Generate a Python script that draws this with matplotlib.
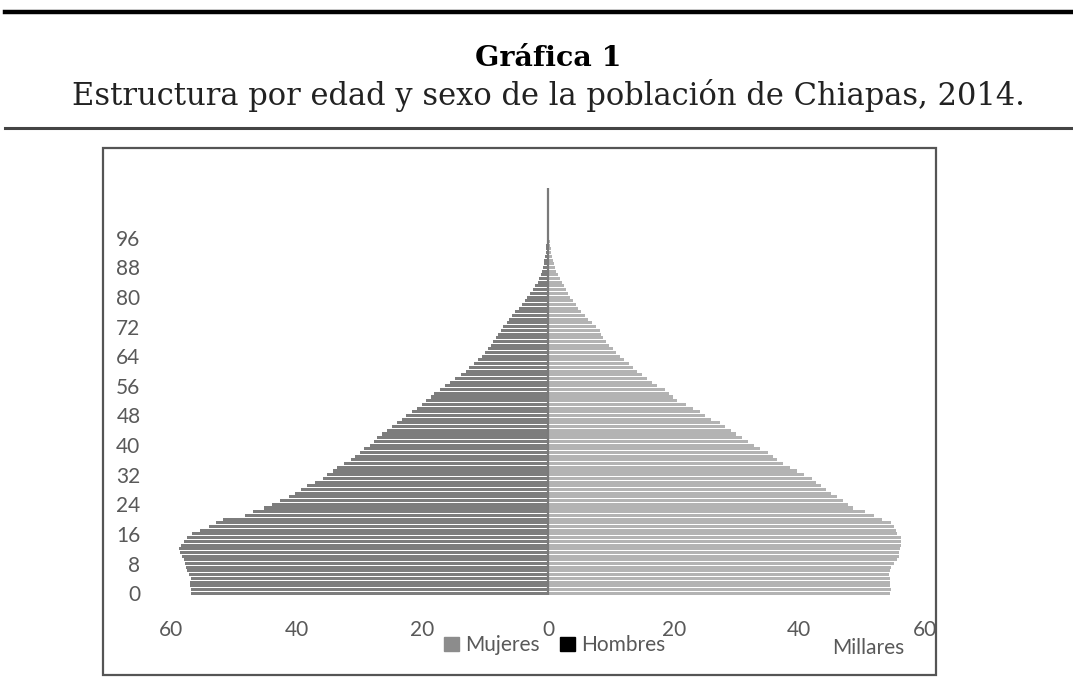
import numpy as np
import matplotlib.pyplot as plt
from matplotlib.patches import Rectangle, Patch
from matplotlib.lines import Line2D

# single-year ages 0..100, values in thousands (millares)
ages = list(range(0, 101))

hombres = [56.8, 56.9, 57.0, 57.0, 56.9, 57.2, 57.5, 57.6, 57.8, 58.0,
           58.3, 58.5, 58.7, 58.4, 57.9, 57.4, 56.6, 55.4, 54.0, 52.8,
           51.7, 48.3, 46.9, 45.2, 44.0, 42.6, 41.2, 40.3, 39.3, 38.4,
           37.1, 35.8, 35.1, 34.3, 33.6, 32.4, 31.4, 30.7, 30.0, 29.3,
           28.3, 27.7, 27.2, 26.4, 25.6, 24.9, 24.0, 23.3, 22.6, 21.6,
           20.8, 20.0, 19.4, 18.7, 18.1, 17.2, 16.4, 15.6, 14.8, 13.9,
           13.1, 12.5, 11.8, 11.1, 10.5, 10.0, 9.5, 9.1, 8.7, 8.3,
           7.9, 7.5, 7.1, 6.6, 6.2, 5.7, 5.2, 4.7, 4.2, 3.6,
           3.3, 2.8, 2.4, 2.0, 1.6, 1.4, 1.1, 0.9, 0.8, 0.7,
           0.6, 0.5, 0.4, 0.3, 0.3, 0.2, 0.2, 0.1, 0.1, 0.1, 0.1]

mujeres = [54.5, 54.6, 54.5, 54.4, 54.4, 54.3, 54.5, 54.6, 55.0, 55.6,
           55.8, 55.9, 56.0, 56.1, 56.2, 56.1, 55.6, 55.3, 55.0, 54.6,
           53.2, 51.9, 50.4, 48.6, 47.8, 47.0, 46.0, 45.1, 44.2, 43.4,
           42.6, 42.0, 40.8, 39.6, 38.5, 37.4, 36.5, 35.8, 35.0, 33.8,
           32.8, 31.8, 30.8, 29.9, 29.1, 28.2, 27.4, 26.0, 25.0, 24.2,
           23.0, 22.0, 20.6, 19.9, 19.3, 18.6, 17.4, 16.6, 15.8, 15.0,
           14.2, 13.5, 12.9, 12.1, 11.4, 10.8, 10.3, 9.7, 9.2, 8.8,
           8.5, 8.2, 7.6, 7.0, 6.4, 5.9, 5.3, 4.8, 4.4, 3.9,
           3.5, 3.1, 2.8, 2.5, 2.2, 1.9, 1.6, 1.3, 1.1, 0.9,
           0.8, 0.6, 0.5, 0.4, 0.3, 0.3, 0.2, 0.2, 0.1, 0.1, 0.1]

x_ticks = [-60, -40, -20, 0, 20, 40, 60]
y_ticks = list(range(0, 97, 8))

sans = ['Lato', 'DejaVu Sans']
serif = ['DejaVu Serif']
txt_gray = '#595959'

fig = plt.figure(figsize=(10.73, 6.9), dpi=100)

# header rules and titles
fig.add_artist(Line2D([0.005, 1.0], [0.982, 0.982], color='black', lw=3.2))
fig.add_artist(Line2D([0.005, 1.0], [0.814, 0.814], color='#444444', lw=2.2))
fig.text(0.511, 0.915, 'Gráfica 1', ha='center', va='center',
         fontsize=20.5, fontweight='bold', family=serif)
fig.text(0.511, 0.862, 'Estructura por edad y sexo de la población de Chiapas, 2014.',
         ha='center', va='center', fontsize=22, family=serif, color='#222222')

# chart frame
fig.add_artist(Rectangle((0.096, 0.022), 0.776, 0.764, transform=fig.transFigure,
                         fill=False, edgecolor='#555555', lw=1.6))

ax = fig.add_axes([0.1594, 0.1377, 0.7027, 0.590])
ax.barh(ages, [-v for v in hombres], height=0.82, color='#7d7d7d', linewidth=0)
ax.barh(ages, mujeres, height=0.82, color='#b3b3b3', linewidth=0)
ax.axvline(0, color='#7a7a7a', lw=1.6)

ax.set_xlim(-60, 60)
ax.set_ylim(-0.5, 109.5)
ax.set_xticks(x_ticks)
ax.set_xticklabels([str(abs(t)) for t in x_ticks])
ax.set_yticks(y_ticks)
ax.tick_params(axis='both', length=0, labelsize=15, labelcolor=txt_gray)
ax.tick_params(axis='x', pad=18)
ax.tick_params(axis='y', pad=22)
for lab in ax.get_xticklabels() + ax.get_yticklabels():
    lab.set_family(sans)
for s in ax.spines.values():
    s.set_visible(False)

handles = [Patch(color='#8c8c8c', label='Mujeres'), Patch(color='black', label='Hombres')]
fig.legend(handles=handles, loc='center', bbox_to_anchor=(0.517, 0.065), ncol=2,
           frameon=False, handlelength=0.7, handleheight=0.7, handletextpad=0.3,
           columnspacing=1.0, prop={'family': sans, 'size': 15}, labelcolor=txt_gray)
fig.text(0.809, 0.061, 'Millares', ha='center', va='center', fontsize=15,
         family=sans, color=txt_gray)

fig.savefig('out.png', dpi=100)
